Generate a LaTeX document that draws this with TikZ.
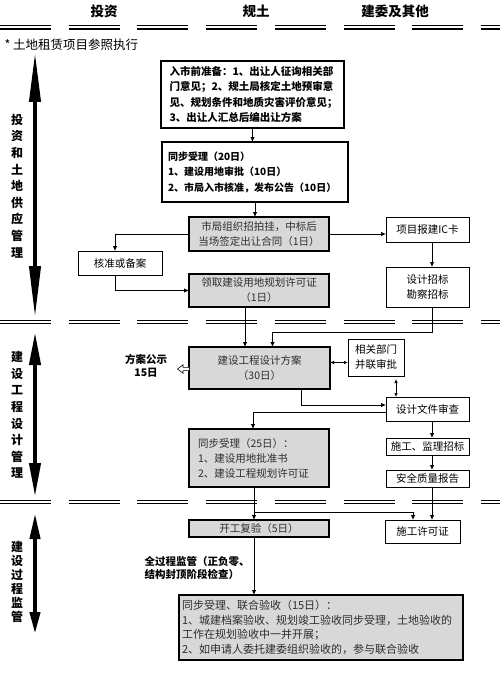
\documentclass[tikz,border=0pt]{standalone}
\usepackage{fontspec}
\setmainfont{Noto Sans CJK SC}
\usetikzlibrary{arrows.meta,calc}
\definecolor{boxgray}{RGB}{216,216,216}
\definecolor{txtgray}{RGB}{45,45,45}
\begin{document}
\begin{tikzpicture}[x=1pt,y=-1pt,
 every node/.style={font=\fontsize{10.5}{14.5}\selectfont},
 base/.style={draw, inner sep=0pt, outer sep=0pt, anchor=north west},
 thinbox/.style={base, line width=0.8pt, fill=white, align=center, font=\fontsize{10.5}{15}\selectfont},
 boldbox/.style={base, line width=1.8pt, fill=white, align=left},
 graybox/.style={base, line width=1.8pt, fill=boxgray, text=txtgray, align=center, font=\fontsize{10.5}{15}\selectfont},
 arr/.style={line width=0.8pt, -{Latex[length=5pt,width=4.5pt]}},
 dblarr/.style={line width=0.8pt, {Latex[length=4pt,width=3.5pt]}-{Latex[length=4pt,width=3.5pt]}},
 sep/.style={line width=1.3pt, dash pattern=on 51pt off 17.7pt},
 bigarr/.style={line width=4pt},
 vlabel/.style={align=center},
 hdr/.style={font=\fontsize{13.5}{16}\selectfont\bfseries},
 blabel/.style={font=\fontsize{10.5}{13.5}\selectfont\bfseries},
]
\useasboundingbox (0,0) rectangle (500,674);
\fill[white] (0,0) rectangle (500,674);

% headers
\node[hdr] (hdA) at (104,11) {投资};
\node[hdr] (hdB) at (256,11) {规土};
\node[hdr] (hdC) at (395,11) {建委及其他};

% separators
\foreach \yy in {27.5,322,502} {
  \draw[sep] (0,\yy-1.8) -- (500,\yy-1.8);
  \draw[sep] (0,\yy+1.6) -- (500,\yy+1.6);
}

\node[anchor=west, font=\fontsize{12.5}{14}\selectfont] (note) at (1,45) {* 土地租赁项目参照执行};

% left big arrows
\coordinate (a1t) at (35,52);  \coordinate (a1b) at (35,318);
\coordinate (a2t) at (35,332); \coordinate (a2b) at (35,497);
\coordinate (a3t) at (35,513); \coordinate (a3b) at (35,634);
\draw[bigarr, {Triangle[length=50pt,width=11pt]}-{Triangle[length=52pt,width=11pt]}] (a1t) -- (a1b);
\draw[bigarr, {Triangle[length=33pt,width=11pt]}-{Triangle[length=34pt,width=11pt]}] (a2t) -- (a2b);
\draw[bigarr, {Triangle[length=26pt,width=10pt]}-{Triangle[length=22pt,width=10pt]}] (a3t) -- (a3b);

\node[vlabel, font=\fontsize{12}{16.6}\selectfont\bfseries] (v1) at (17,186) {投\\资\\和\\土\\地\\供\\应\\管\\理};
\node[vlabel, font=\fontsize{12}{16.6}\selectfont\bfseries] (v2) at (17,415) {建\\设\\工\\程\\设\\计\\管\\理};
\node[vlabel, font=\fontsize{12}{14}\selectfont\bfseries] (v3) at (17,582) {建\\设\\过\\程\\监\\管};

% boxes
\node[boldbox, text width=166pt, inner xsep=8.5pt, minimum height=67pt, font=\fontsize{10.5}{15.2}\selectfont\bfseries] (A) at (161,61)
 {入市前准备：1、出让人征询相关部\\门意见；2、规土局核定土地预审意\\见、规划条件和地质灾害评价意见；\\3、出让人汇总后编出让方案};
\node[boldbox, text width=174pt, inner xsep=6pt, minimum height=60pt, font=\fontsize{10}{15.5}\selectfont\bfseries] (B) at (162,142)
 {同步受理（20日）\\1、建设用地审批（10日）\\2、市局入市核准，发布公告（10日）};
\node[graybox, minimum width=140pt, minimum height=34pt] (C) at (189,217) {市局组织招拍挂，中标后\\当场签定出让合同（1日）};
\node[thinbox, minimum width=83pt, minimum height=25pt] (D) at (386,217) {项目报建IC卡};
\node[thinbox, minimum width=83pt, minimum height=40pt] (E) at (386,267) {设计招标\\勘察招标};
\node[thinbox, minimum width=84pt, minimum height=24pt] (F) at (78,251) {核准或备案};
\node[graybox, minimum width=140pt, minimum height=33pt] (G) at (189,274) {领取建设用地规划许可证\\（1日）};
\node[graybox, minimum width=141pt, minimum height=42pt] (H) at (189,347) {建设工程设计方案\\（30日）};
\node[thinbox, minimum width=56pt, minimum height=37pt] (I) at (348,339) {相关部门\\并联审批};
\node[thinbox, minimum width=83pt, minimum height=24pt] (J) at (386,397) {设计文件审查};
\node[graybox, align=left, text width=122pt, inner xsep=9pt, minimum height=58pt] (K) at (189,429) {同步受理（25日）：\\1、建设用地批准书\\2、建设工程规划许可证};
\node[thinbox, minimum width=83pt, minimum height=17pt] (L) at (386,438) {施工、监理招标};
\node[thinbox, minimum width=83pt, minimum height=17pt] (M) at (386,470) {安全质量报告};
\node[thinbox, minimum width=75pt, minimum height=23pt] (N) at (385,520) {施工许可证};
\node[graybox, minimum width=140pt, minimum height=17pt] (O) at (189,520) {开工复验（5日）};
\node[graybox, align=left, text width=278pt, inner xsep=3pt, minimum height=65pt, font=\fontsize{11}{14.7}\selectfont] (P) at (179,595)
 {同步受理、联合验收（15日）：\\1、城建档案验收、规划竣工验收同步受理，土地验收的\\工作在规划验收中一并开展；\\2、如申请人委托建委组织验收的，参与联合验收};

% labels
\node[blabel, align=center] (pub) at (146,366) {方案公示\\15日};
\node[blabel, align=left, anchor=west] (sup) at (141,568) {全过程监管（正负零、\\结构封顶阶段检查）};

% connectors
\coordinate (rc) at (432,0);
\draw[arr] (A.south) -- (A.south |- B.north);
\draw[arr] (B.south) -- (B.south |- C.north);
\draw[arr] (C.east) -- (C.east -| D.west);
\draw[arr] (D.south -| rc) -- (E.north -| rc);
\coordinate (f1) at ([xshift=-5pt]F.north);
\draw[arr] (C.west) -| (f1);
\draw[arr] (F.south -| f1) |- (G.west);
\coordinate (g1) at ([xshift=-14pt]G.south);
\draw[arr] (g1) -- (g1 |- H.north);
\coordinate (h1) at ([xshift=13pt]H.north);
\draw[arr] (E.south -| rc) -- ++(0,25) -| (h1);
\coordinate (i1) at ([yshift=-5pt]I.west);
\draw[dblarr] (H.east |- i1) -- (i1);
\coordinate (i2) at ([xshift=20pt,yshift=-3pt]I.south);
\draw[dblarr] (i2) -- (i2 |- J.north);
\coordinate (h2) at ([xshift=41.5pt]H.south);
\coordinate (j1) at ([yshift=4pt]J.west);
\draw[arr] (h2) |- (j1);
\coordinate (j2) at ([yshift=-3pt]J.west);
\coordinate (k1) at ([xshift=-6pt]K.north);
\draw[arr] (j2) -| (k1);
\draw[arr] (J.south -| rc) -- (L.north -| rc);
\draw[arr] (L.south -| rc) -- (M.north -| rc);
\draw[arr] (M.south -| rc) -- (N.north -| rc);
\coordinate (k2) at ([xshift=-5pt]K.south);
\draw[arr] (k2) -- (k2 |- O.north);
\coordinate (kb) at ([yshift=-25pt]k2);
\coordinate (n1) at ([xshift=-9.5pt]N.north);
\draw[arr] (kb) -| (n1);
\coordinate (o1) at ([xshift=-5pt]O.south);
\draw[arr] (o1) -- (o1 |- P.north);

% hollow arrow toward 方案公示
\coordinate (hw) at ([yshift=-1pt]H.west);
\draw[line width=0.6pt, fill=white] (hw) ++(0,-1.6) -- ++(-6,0) -- ++(0,-2.6) -- ++(-5.5,4.2) -- ++(5.5,4.2) -- ++(0,-2.6) -- ++(6,0);
\end{tikzpicture}
\end{document}
